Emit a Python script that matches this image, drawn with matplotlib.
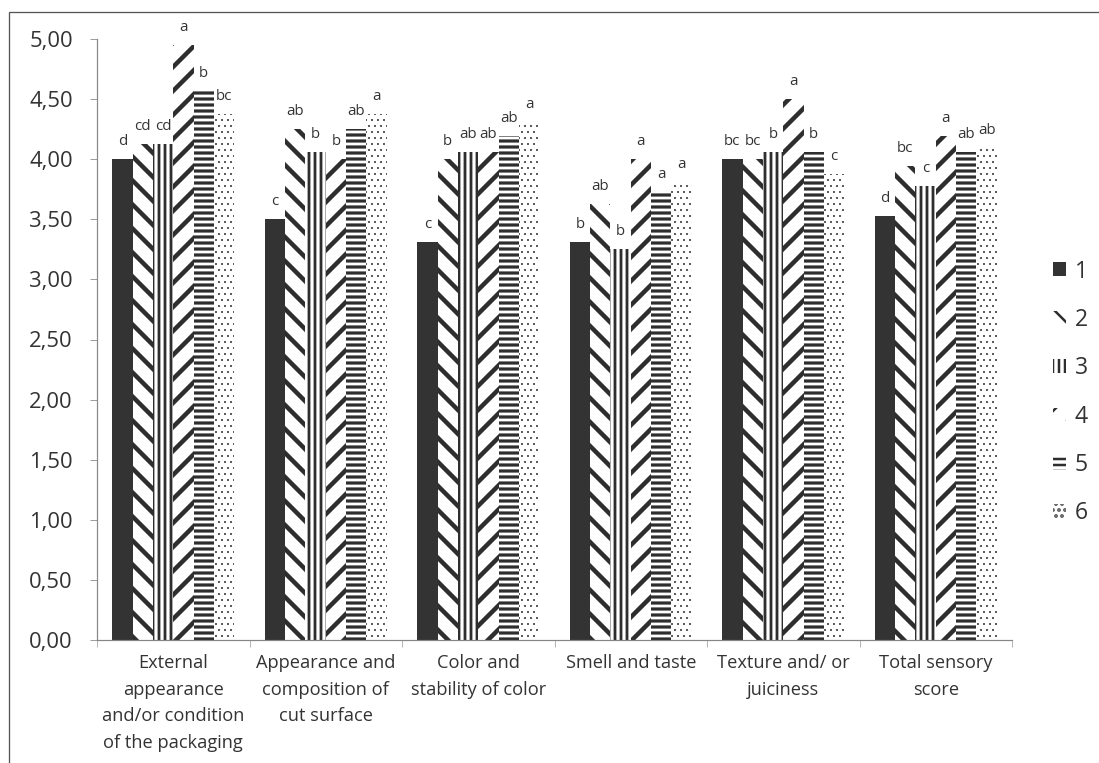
import numpy as np
import matplotlib
matplotlib.use("Agg")
import matplotlib.pyplot as plt
from matplotlib.patches import Rectangle

categories = [
    "External\nappearance\nand/or condition\nof the packaging",
    "Appearance and\ncomposition of\ncut surface",
    "Color and\nstability of color",
    "Smell and taste",
    "Texture and/ or\njuiciness",
    "Total sensory\nscore",
]
series_names = ["1", "2", "3", "4", "5", "6"]

# mean scores, one list per sample
s1 = [4.00, 3.50, 3.31, 3.31, 4.00, 3.53]
s2 = [4.13, 4.25, 4.00, 3.63, 4.00, 3.94]
s3 = [4.13, 4.06, 4.06, 3.25, 4.06, 3.78]
s4 = [4.95, 4.00, 4.06, 4.00, 4.50, 4.19]
s5 = [4.57, 4.25, 4.19, 3.73, 4.06, 4.06]
s6 = [4.38, 4.38, 4.31, 3.81, 3.88, 4.09]

# significance letters
l1 = ["d", "c", "c", "b", "bc", "d"]
l2 = ["cd", "ab", "b", "ab", "bc", "bc"]
l3 = ["cd", "b", "ab", "b", "b", "c"]
l4 = ["a", "b", "ab", "a", "a", "a"]
l5 = ["b", "ab", "ab", "a", "b", "ab"]
l6 = ["bc", "a", "a", "a", "c", "ab"]

values = [s1, s2, s3, s4, s5, s6]
letters = [l1, l2, l3, l4, l5, l6]

# style per series: facecolor, hatch, hatch colour, hatch linewidth
styles = [
    ("#333333", "", "#333333", 1.0),
    ("white", "\\", "#2e2e2e", 4.5),
    ("white", "||", "#2e2e2e", 2.8),
    ("white", "/", "#2e2e2e", 4.5),
    ("white", "--", "#2e2e2e", 3.2),
    ("white", "..", "#4a4a4a", 0.9),
]

plt.rcParams["font.family"] = ["Open Sans", "DejaVu Sans"]

W, H = 1099, 763
fig = plt.figure(figsize=(W / 72, H / 72), dpi=72)
ax = fig.add_axes([97 / W, 1 - 640 / H, (1012 - 97) / W, (640 - 39) / H])

x = np.arange(len(categories))
n = len(values)
width = 0.8 / n

handles = []
for i in range(n):
    fc, hatch, hc, hlw = styles[i]
    with plt.rc_context({"hatch.linewidth": hlw}):
        bars = ax.bar(x + (i - (n - 1) / 2) * width, values[i], width,
                      color=fc, edgecolor=hc, linewidth=0, hatch=hatch,
                      label=series_names[i], zorder=2)
        for b in bars:
            if hasattr(b, "set_hatch_linewidth"):
                b.set_hatch_linewidth(hlw)
    handles.append(bars)
    for xi, v, lab in zip(x, values[i], letters[i]):
        ax.annotate(lab, (xi + (i - (n - 1) / 2) * width, v),
                    xytext=(0, 14), textcoords="offset points",
                    ha="center", va="baseline", fontsize=15, color="#333333")

ax.set_ylim(0, 5)
ax.set_xlim(-0.5, len(categories) - 0.5)
yt = np.arange(0, 5.01, 0.5)
ax.set_yticks(yt)
ax.set_yticklabels([f"{t:.2f}".replace(".", ",") for t in yt])
ax.set_xticks(x)
ax.set_xticklabels(categories, linespacing=1.62)
ax.set_xticks(np.arange(-0.5, len(categories), 1), minor=True)

ax.tick_params(axis="y", length=7, color="#868686", pad=17,
               labelsize=22, labelcolor="#333333")
ax.tick_params(axis="x", which="major", length=0, pad=14,
               labelsize=18.3, labelcolor="#333333")
ax.tick_params(axis="x", which="minor", length=7, color="#868686")

for side in ["top", "right"]:
    ax.spines[side].set_visible(False)
for side in ["left", "bottom"]:
    ax.spines[side].set_color("#868686")
    ax.spines[side].set_linewidth(1.2)

with plt.rc_context({"hatch.linewidth": 2.5}):
    leg = fig.legend(handles=handles, loc="center left",
                     bbox_to_anchor=(1053 / W, 1 - 392.5 / H),
                     frameon=False, fontsize=23, handlelength=0.55,
                     handleheight=0.55, handletextpad=0.4,
                     labelspacing=1.06, borderpad=0, borderaxespad=0)
for t in leg.get_texts():
    t.set_color("#333333")

# outer frame of the figure
fig.patches.append(Rectangle((9 / W, -0.2), 1.5, 1 - 12 / H + 0.2,
                             transform=fig.transFigure, fill=False,
                             edgecolor="#555555", linewidth=1.3))

fig.savefig("out.png", dpi=72, facecolor="white")
